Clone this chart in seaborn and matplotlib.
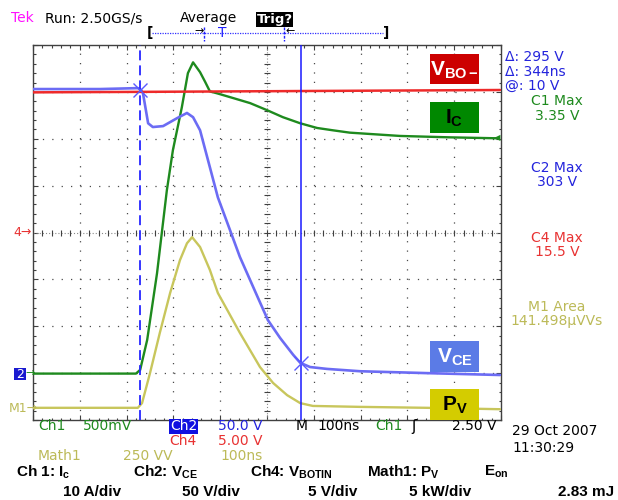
import numpy as np
import pandas as pd
import matplotlib
matplotlib.use('Agg')
import matplotlib.pyplot as plt
import seaborn as sns
from matplotlib.patches import Rectangle
from matplotlib.lines import Line2D

# ---------------- data (time in ns, amplitude in screen divisions) ----------------
time_vbo = [0, 229, 998]
vbo_div = [6.99, 7.00, 7.04]

time_ic = [0, 220, 229, 244, 265, 286, 299, 318, 331, 342, 357, 368, 378, 393,
           427, 464, 500, 534, 571, 607, 641, 677, 784, 891, 991]
ic_div = [0.99, 0.99, 1.07, 1.71, 3.13, 4.90, 5.76, 6.67, 7.40, 7.63, 7.42, 7.21,
          7.01, 6.97, 6.87, 6.76, 6.61, 6.46, 6.33, 6.23, 6.18, 6.13, 6.06, 6.03, 6.01]

time_vce = [0, 143, 224, 231, 235, 246, 256, 278, 308, 329, 342, 357, 378, 395,
            421, 442, 481, 502, 528, 556, 571, 592, 628, 699, 842, 998]
vce_div = [7.06, 7.06, 7.08, 7.04, 6.97, 6.33, 6.25, 6.27, 6.44, 6.55, 6.46, 6.18,
           5.39, 4.75, 4.05, 3.48, 2.60, 2.13, 1.75, 1.39, 1.22, 1.13, 1.09, 1.04,
           1.00, 0.96]

time_pv = [0, 224, 233, 250, 271, 293, 314, 329, 340, 357, 378, 395, 442, 485,
           513, 543, 571, 598, 699, 842, 998]
pv_div = [0.26, 0.26, 0.36, 1.00, 1.86, 2.71, 3.41, 3.77, 3.90, 3.69, 3.20, 2.71,
          1.86, 1.13, 0.79, 0.53, 0.36, 0.30, 0.28, 0.26, 0.23]

cursor_t = [229, 573]
cursor_v = [7.05, 1.22]

readouts = ["Δ: 295 V", "Δ: 344ns", "@: 10 V"]
meas_labels = [("C1 Max", "3.35 V"), ("C2 Max", "303 V"), ("C4 Max", "15.5 V"),
               ("M1 Area", "141.498µVVs")]

# ---------------- style ----------------
sns.set_style('white')
plt.rcParams['font.family'] = ['DejaVu Sans']
plt.rcParams['mathtext.fontset'] = 'custom'
plt.rcParams['mathtext.rm'] = 'Liberation Sans'
plt.rcParams['mathtext.bf'] = 'Liberation Sans:bold'
plt.rcParams['mathtext.it'] = 'Liberation Sans:italic'

RED = '#ee2a2a'
GREEN = '#1e8a1e'
BLUE_TR = '#6c6cf4'
YEL = '#c8c65c'
BLUE_TXT = '#2424dc'
OLIVE_TXT = '#bcba58'

W, H = 618, 500
fig = plt.figure(figsize=(W / 100, H / 100), dpi=100)
fig.patch.set_facecolor('white')
L, R, T, B = 33, 501, 45, 420
ax = fig.add_axes([L / W, 1 - B / H, (R - L) / W, (B - T) / H])
ax.set_xlim(0, 1000)
ax.set_ylim(0, 8)
ax.set_facecolor('white')

# graticule
for t in range(100, 1000, 100):
    if t != 500:
        ax.axvline(t, color='#4a4a4a', lw=0.9, ls=(0, (1, 6.5)), zorder=1)
for v in range(1, 8):
    if v != 4:
        ax.axhline(v, color='#4a4a4a', lw=0.9, ls=(0, (1, 6.5)), zorder=1)
ax.axvline(500, color='#8a8a8a', lw=0.8, ls=(0, (1, 1.8)), zorder=1)
ax.axhline(4, color='#8a8a8a', lw=0.8, ls=(0, (1, 1.8)), zorder=1)
minor_t = np.arange(20, 1000, 20)
minor_v = np.arange(0.2, 8, 0.2)
ax.plot(minor_t, np.full(len(minor_t), 4.0), ls='none', marker='|', ms=4,
        mew=0.8, color='#404040', zorder=1)
ax.plot(np.full(len(minor_v), 500.0), minor_v, ls='none', marker='_', ms=4,
        mew=0.8, color='#404040', zorder=1)

ax.set_xticks(np.arange(0, 1001, 100))
ax.set_xticks(np.arange(0, 1001, 20), minor=True)
ax.set_yticks(np.arange(0, 8.01, 1))
ax.set_yticks(np.arange(0, 8.01, 0.2), minor=True)
ax.tick_params(which='both', direction='in', top=True, right=True, bottom=True,
               left=True, labelbottom=False, labelleft=False, color='#404040',
               width=0.8)
ax.tick_params(which='major', length=3.5)
ax.tick_params(which='minor', length=1.8)
for s in ax.spines.values():
    s.set_color('#404040')
    s.set_linewidth(1.0)

# traces
sns.lineplot(x=time_pv, y=pv_div, ax=ax, color=YEL, linewidth=1.7,
             estimator=None, sort=False, legend=False, zorder=3)
sns.lineplot(x=time_ic, y=ic_div, ax=ax, color=GREEN, linewidth=1.7,
             estimator=None, sort=False, legend=False, zorder=4)
sns.lineplot(x=time_vce, y=vce_div, ax=ax, color=BLUE_TR, linewidth=1.9,
             estimator=None, sort=False, legend=False, zorder=5)
sns.lineplot(x=time_vbo, y=vbo_div, ax=ax, color=RED, linewidth=1.8,
             estimator=None, sort=False, legend=False, zorder=6)
ax.set_xlabel('')
ax.set_ylabel('')

# cursors
ax.axvline(cursor_t[0], color='#2626ff', lw=1.3, ls=(0, (5.5, 2.8)), zorder=7)
ax.axvline(cursor_t[1], color='#1a1aff', lw=1.1, zorder=7)
ax.plot(cursor_t, cursor_v, ls='none', marker='x', ms=10, mew=1.0,
        color='#5a5aff', zorder=8)


def px(x, y):
    return x / W, 1 - y / H


def ftxt(x, y, s, ha='left', **kw):
    fig.text(*px(x, y), s, ha=ha, va='center', **kw)


def fbox(x0, y0, x1, y1, color, z=5):
    fig.add_artist(Rectangle(px(x0, y1), (x1 - x0) / W, (y1 - y0) / H,
                             transform=fig.transFigure, facecolor=color,
                             edgecolor='none', zorder=z))


# trace label boxes
boxes = [(54, 84, '#cc0000', 'white', r'$\mathbf{V}_{\mathbf{BO-}}$'),
         (102, 133, '#008800', 'black', r'$\mathbf{I}_{\mathbf{C}}$'),
         (341, 372, '#5b7be6', 'white', r'$\mathbf{V}_{\mathbf{CE}}$'),
         (389, 420, '#d4cc00', 'black', r'$\mathbf{P}_{\mathbf{V}}$')]
for y0, y1, fc, tc, lab in boxes:
    fbox(430, y0, 479, y1, fc)
    fig.text(*px(454.5, (y0 + y1) / 2 + 1), lab, ha='center', va='center',
             color=tc, fontsize=15, zorder=6)

# right side readouts
for i, s in enumerate(readouts):
    ftxt(505, 57 + i * 14.5, s, color=BLUE_TXT, fontsize=10)
meas_y = [101, 168, 238, 307]
meas_c = [GREEN, BLUE_TXT, '#e83232', OLIVE_TXT]
for (a, b), yy, cc in zip(meas_labels, meas_y, meas_c):
    ftxt(557, yy, a, ha='center', color=cc, fontsize=10)
    ftxt(557, yy + 14.5, b, ha='center', color=cc, fontsize=10)

# top header
ftxt(11, 18, 'Tek', color='#ff10ff', fontsize=10)
ftxt(45, 18, 'Run: 2.50GS/s', color='black', fontsize=10)
ftxt(180, 18, 'Average', color='black', fontsize=10)
fbox(256, 12, 293, 27, 'black')
ftxt(274.5, 19, 'Trig?', ha='center', color='white', fontsize=9.5,
     fontweight='bold', zorder=6)
fig.add_artist(Line2D([152 / W, 383 / W], [1 - 33 / H, 1 - 33 / H],
                      transform=fig.transFigure, color='#3030ff', lw=0.9,
                      ls=(0, (1, 1))))
ftxt(147, 33, '[', color='black', fontsize=10, fontweight='bold')
ftxt(383, 33, ']', color='black', fontsize=10, fontweight='bold')
ftxt(194, 31, '→', color='black', fontsize=8)
ftxt(285, 31, '←', color='black', fontsize=8)
for xx in (204, 284):
    fig.add_artist(Line2D([xx / W, xx / W], [1 - 27 / H, 1 - 41 / H],
                          transform=fig.transFigure, color='#2020ff', lw=1.0,
                          ls=(0, (2, 1))))
ftxt(222, 33, 'T', ha='center', color='#2020ff', fontsize=10)

# left markers
ftxt(13, 233, '4→', color='#e83232', fontsize=9)
fbox(14, 368, 26, 380, '#1a1ad0')
ftxt(20, 374, '2', ha='center', color='white', fontsize=9, zorder=6)
ftxt(25, 373, '→', color=GREEN, fontsize=8)
ftxt(9, 408, 'M1→', color=OLIVE_TXT, fontsize=9)
ftxt(497, 138, '◀', ha='center', color=GREEN, fontsize=6)

# bottom scope settings
ftxt(38, 426, 'Ch1', color=GREEN, fontsize=10)
ftxt(83, 426, '500mV', color=GREEN, fontsize=10)
fbox(169, 419, 198, 434, '#1010e0')
ftxt(183.5, 426, 'Ch2', ha='center', color='white', fontsize=10, zorder=6)
ftxt(218, 426, '50.0 V', color=BLUE_TXT, fontsize=10)
ftxt(296, 426, 'M', color='black', fontsize=10)
ftxt(317, 426, '100ns', color='black', fontsize=10)
ftxt(375, 426, 'Ch1', color=GREEN, fontsize=10)
ftxt(411, 426, 'ʃ', color='black', fontsize=11)
ftxt(452, 426, '2.50 V', color='black', fontsize=10)
ftxt(512, 431, '29 Oct 2007', color='black', fontsize=10)
ftxt(169, 441, 'Ch4', color='#e83232', fontsize=10)
ftxt(218, 441, '5.00 V', color='#e83232', fontsize=10)
ftxt(512, 448, '11:30:29', color='black', fontsize=10)
ftxt(38, 456, 'Math1', color=OLIVE_TXT, fontsize=10)
ftxt(123, 456, '250 VV', color=OLIVE_TXT, fontsize=10)
ftxt(220, 456, '100ns', color=OLIVE_TXT, fontsize=10)

# bottom annotation (bold)
bkw = dict(color='black', fontsize=11, fontweight='bold', family='Liberation Sans')
ftxt(16, 472, r'Ch 1: I$_{\mathbf{c}}$', **bkw)
ftxt(133, 472, r'Ch2: V$_{\mathbf{CE}}$', **bkw)
ftxt(250, 472, r'Ch4: V$_{\mathbf{BOTIN}}$', **bkw)
ftxt(367, 472, r'Math1: P$_{\mathbf{V}}$', **bkw)
ftxt(484, 472, r'E$_{\mathbf{on}}$', **bkw)
ftxt(63, 492, '10 A/div', **bkw)
ftxt(182, 492, '50 V/div', **bkw)
ftxt(308, 492, '5 V/div', **bkw)
ftxt(409, 492, '5 kW/div', **bkw)
ftxt(558, 492, '2.83 mJ', **bkw)

fig.savefig('out.png', dpi=100, facecolor='white')
